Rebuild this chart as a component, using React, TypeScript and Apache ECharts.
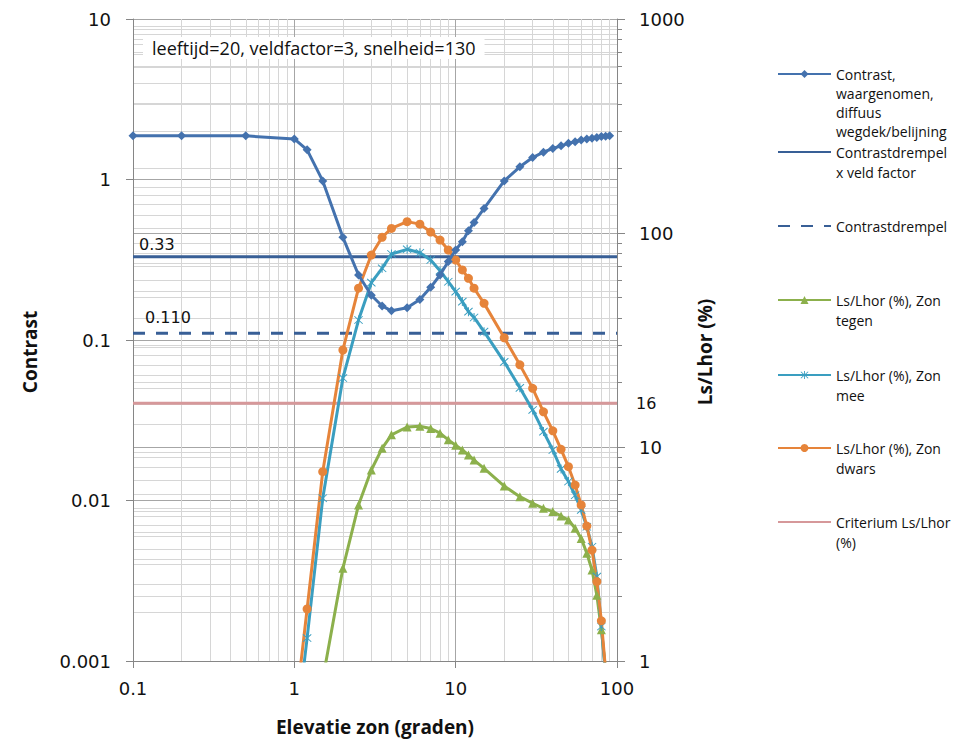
import React, { useEffect, useRef } from 'react';
import * as echarts from 'echarts';

// ---- data ----
const contrastX = [0.1, 0.2, 0.5, 1, 1.2, 1.5, 2, 2.5, 3, 3.5, 4, 5, 6, 7, 8, 9, 10, 11, 12, 13, 15, 20, 25, 30, 35, 40, 45, 50, 55, 60, 65, 70, 75, 80, 85, 90];
const contrastY = [1.87, 1.87, 1.87, 1.79, 1.53, 0.98, 0.436, 0.254, 0.19, 0.163, 0.152, 0.159, 0.179, 0.213, 0.254, 0.308, 0.364, 0.41, 0.48, 0.54, 0.66, 0.98, 1.2, 1.37, 1.48, 1.56, 1.62, 1.68, 1.72, 1.76, 1.79, 1.81, 1.83, 1.85, 1.86, 1.87];

const thresholdFieldValue = 0.33;
const thresholdValue = 0.11;
const criteriumValue = 16;
const xRange = [0.1, 100];

const tegenX = [1.5, 2, 2.5, 3, 3.5, 4, 5, 6, 7, 8, 9, 10, 11, 12, 13, 15, 20, 25, 30, 35, 40, 45, 50, 55, 60, 65, 70, 75, 80, 85];
const tegenY = [0.82, 2.71, 5.36, 7.81, 9.86, 11.4, 12.4, 12.5, 12.2, 11.6, 10.8, 10.2, 9.68, 9.18, 8.69, 7.95, 6.57, 5.86, 5.46, 5.17, 4.99, 4.76, 4.56, 4.17, 3.74, 3.19, 2.66, 2.03, 1.4, 0.9];

const meeX = [1, 1.2, 1.5, 2, 2.5, 3, 3.5, 4, 5, 6, 7, 8, 9, 10, 11, 12, 13, 15, 20, 25, 30, 35, 40, 45, 50, 55, 60, 65, 70, 75, 80, 85];
const meeY = [0.4, 1.28, 5.76, 21, 39.2, 58.6, 68.4, 79.8, 83.9, 80.9, 74.8, 66.7, 59.2, 53.2, 47.8, 42.9, 40.3, 34.6, 25, 18.9, 14.9, 11.8, 9.68, 7.9, 6.9, 5.95, 5.08, 4.24, 3.42, 2.48, 1.45, 0.85];

const dwarsX = [1, 1.2, 1.5, 2, 2.5, 3, 3.5, 4, 5, 6, 7, 8, 9, 10, 11, 12, 13, 15, 20, 25, 30, 35, 40, 45, 50, 55, 60, 65, 70, 75, 80, 85];
const dwarsY = [0.53, 1.75, 7.67, 28.4, 55.2, 78.9, 95.5, 105, 113, 110, 101, 92.7, 83.3, 74.8, 67.2, 61.4, 55.2, 46.9, 32.4, 24.2, 18.8, 14.6, 11.9, 9.75, 8.09, 6.64, 5.36, 4.27, 3.3, 2.35, 1.54, 0.9];

const seriesNames = [
  'Contrast, waargenomen, diffuus wegdek/belijning',
  'Contrastdrempel x veld factor',
  'Contrastdrempel',
  'Ls/Lhor (%), Zon tegen',
  'Ls/Lhor (%), Zon mee',
  'Ls/Lhor (%), Zon dwars',
  'Criterium Ls/Lhor (%)',
];
const legendLines = [
  ['Contrast,', 'waargenomen,', 'diffuus', 'wegdek/belijning'],
  ['Contrastdrempel', 'x veld factor'],
  ['Contrastdrempel'],
  ['Ls/Lhor (%), Zon', 'tegen'],
  ['Ls/Lhor (%), Zon', 'mee'],
  ['Ls/Lhor (%), Zon', 'dwars'],
  ['Criterium Ls/Lhor', '(%)'],
];
const annotationText = 'leeftijd=20, veldfactor=3, snelheid=130';

// ---- style ----
const C_CONTRAST = '#4472ae';
const C_THRESH = '#385f96';
const C_TEGEN = '#8cb04c';
const C_MEE = '#3a9ec0';
const C_DWARS = '#e6843a';
const C_CRIT = '#d6989a';
const AXIS_COLOR = '#868686';
const MAJOR_GRID = '#a6a6a6';
const MINOR_GRID = '#d6d6d6';
const TICK_FONT = 'DejaVu Sans';
const TEXT_FONT = 'Open Sans';

const starPath =
  'path://M9,0L11,0L11,20L9,20Z M1,2.4L2.4,1L19,17.6L17.6,19Z M17.6,1L19,2.4L2.4,19L1,17.6Z';

const zip = (xs: number[], ys: number[]) => xs.map((x, i) => [x, ys[i]]);

const legendTops = [74, 152, 226, 300, 375, 448, 522];
const legendLineHeights = [19, 20, 20, 20, 20, 20, 20];
const legendHideSymbol = [false, true, true, false, false, false, true];

function buildOption() {
  const axisLabelBase = { fontFamily: TICK_FONT, fontSize: 18, color: '#111' };
  const nameStyle = {
    fontFamily: TEXT_FONT,
    fontWeight: 'bold' as const,
    fontSize: 19,
    color: '#111',
    padding: [0, 24, 0, 0],
  };
  const lineSeries = (name: string, data: any[], color: string, extra: any = {}) => ({
    type: 'line',
    name,
    data,
    lineStyle: { color, width: 3 },
    itemStyle: { color },
    emphasis: { disabled: true },
    ...extra,
  });

  return {
    animation: false,
    backgroundColor: '#fff',
    grid: { left: 133, right: 343, top: 19, bottom: 84 },
    xAxis: {
      type: 'log',
      logBase: 10,
      min: 0.1,
      max: 100,
      axisLine: { show: true, lineStyle: { color: AXIS_COLOR, width: 1 } },
      axisTick: { show: true, inside: false, length: 7, lineStyle: { color: AXIS_COLOR } },
      axisLabel: { ...axisLabelBase, margin: 18, formatter: (v: number) => String(v) },
      splitLine: { show: true, lineStyle: { color: MAJOR_GRID, width: 1 } },
      minorTick: { show: false, splitNumber: 9 },
      minorSplitLine: { show: true, lineStyle: { color: MINOR_GRID, width: 1 } },
      name: 'Elevatie zon (graden)',
      nameLocation: 'middle',
      nameGap: 56,
      nameTextStyle: { ...nameStyle, padding: 0 },
    },
    yAxis: [
      {
        type: 'log',
        logBase: 10,
        min: 0.001,
        max: 10,
        position: 'left',
        axisLine: { show: true, lineStyle: { color: AXIS_COLOR, width: 1 } },
        axisTick: { show: true, inside: false, length: 7, lineStyle: { color: AXIS_COLOR } },
        axisLabel: { ...axisLabelBase, margin: 22, formatter: (v: number) => String(v) },
        splitLine: { show: true, lineStyle: { color: MAJOR_GRID, width: 1 } },
        minorTick: { show: false, splitNumber: 9 },
        minorSplitLine: { show: true, lineStyle: { color: MINOR_GRID, width: 1 } },
        name: 'Contrast',
        nameLocation: 'middle',
        nameGap: 94,
        nameTextStyle: nameStyle,
      },
      {
        type: 'log',
        logBase: 10,
        min: 1,
        max: 1000,
        position: 'right',
        axisLine: { show: true, lineStyle: { color: AXIS_COLOR, width: 1 } },
        axisTick: { show: true, inside: false, length: 8, lineStyle: { color: AXIS_COLOR } },
        axisLabel: { ...axisLabelBase, margin: 22, formatter: (v: number) => String(v) },
        splitLine: { show: true, lineStyle: { color: MAJOR_GRID, width: 1 } },
        minorTick: { show: true, splitNumber: 9, length: 5, lineStyle: { color: AXIS_COLOR } },
        minorSplitLine: { show: true, lineStyle: { color: MINOR_GRID, width: 1 } },
        name: 'Ls/Lhor (%)',
        nameLocation: 'middle',
        nameGap: 72,
        nameTextStyle: nameStyle,
      },
    ],
    legend: seriesNames.map((name, i) => {
      const n = legendLines[i].length;
      const lh = legendLineHeights[i];
      const leg: any = {
        data: [name],
        left: 777,
        top: legendTops[i] - ((2 * n - 1) * lh) / 2,
        padding: 0,
        itemWidth: 53,
        itemHeight: 10,
        selectedMode: false,
        formatter: () => '\n'.repeat(n - 1) + legendLines[i].join('\n'),
        textStyle: { fontFamily: TEXT_FONT, fontSize: 14, lineHeight: lh, color: '#111' },
      };
      if (legendHideSymbol[i]) leg.itemStyle = { opacity: 0, borderWidth: 0 };
      return leg;
    }),
    graphic: [
      {
        type: 'text',
        left: 143,
        top: 37,
        z: 10,
        style: {
          text: annotationText,
          fontFamily: TEXT_FONT,
          fontSize: 18,
          fill: '#111',
          backgroundColor: '#fff',
          padding: [2, 9, 2, 9],
        },
      },
    ],
    series: [
      lineSeries(seriesNames[0], zip(contrastX, contrastY), C_CONTRAST, {
        yAxisIndex: 0,
        symbol: 'diamond',
        symbolSize: 9,
        z: 5,
      }),
      lineSeries(
        seriesNames[1],
        [
          {
            value: [xRange[0], thresholdFieldValue],
            symbol: 'circle',
            symbolSize: 0,
            label: {
              show: true,
              formatter: String(thresholdFieldValue),
              position: 'right',
              distance: 6,
              offset: [0, -12],
              fontFamily: TICK_FONT,
              fontSize: 16,
              color: '#111',
            },
          },
          [xRange[1], thresholdFieldValue],
        ],
        C_THRESH,
        { yAxisIndex: 0, symbol: 'none', z: 3 }
      ),
      lineSeries(
        seriesNames[2],
        [
          {
            value: [xRange[0], thresholdValue],
            symbol: 'circle',
            symbolSize: 0,
            label: {
              show: true,
              formatter: thresholdValue.toFixed(3),
              position: 'right',
              distance: 12,
              offset: [0, -16],
              fontFamily: TICK_FONT,
              fontSize: 16,
              color: '#111',
            },
          },
          [xRange[1], thresholdValue],
        ],
        C_THRESH,
        { yAxisIndex: 0, symbol: 'none', z: 3, lineStyle: { color: C_THRESH, width: 3, type: [12, 11] } }
      ),
      lineSeries(seriesNames[3], zip(tegenX, tegenY), C_TEGEN, {
        yAxisIndex: 1,
        symbol: 'triangle',
        symbolSize: 9,
        z: 4,
      }),
      lineSeries(seriesNames[4], zip(meeX, meeY), C_MEE, {
        yAxisIndex: 1,
        symbol: starPath,
        symbolSize: 9,
        z: 4,
      }),
      lineSeries(seriesNames[5], zip(dwarsX, dwarsY), C_DWARS, {
        yAxisIndex: 1,
        symbol: 'circle',
        symbolSize: 9,
        z: 4,
      }),
      lineSeries(
        seriesNames[6],
        [
          [xRange[0], criteriumValue],
          {
            value: [xRange[1], criteriumValue],
            symbol: 'circle',
            symbolSize: 0,
            label: {
              show: true,
              formatter: String(criteriumValue),
              position: 'right',
              distance: 19,
              fontFamily: TICK_FONT,
              fontSize: 16,
              color: '#111',
            },
          },
        ],
        C_CRIT,
        { yAxisIndex: 1, symbol: 'none', z: 3, clip: false }
      ),
    ],
  };
}

export default function App() {
  const ref = useRef<HTMLDivElement>(null);
  useEffect(() => {
    if (!ref.current) return;
    const chart = echarts.init(ref.current, null, { renderer: 'svg' });
    chart.setOption(buildOption() as any);
    return () => chart.dispose();
  }, []);
  return (
    <div
      ref={ref}
      style={{ position: 'absolute', left: 0, top: 0, width: 960, height: 745, background: '#fff' }}
    />
  );
}
